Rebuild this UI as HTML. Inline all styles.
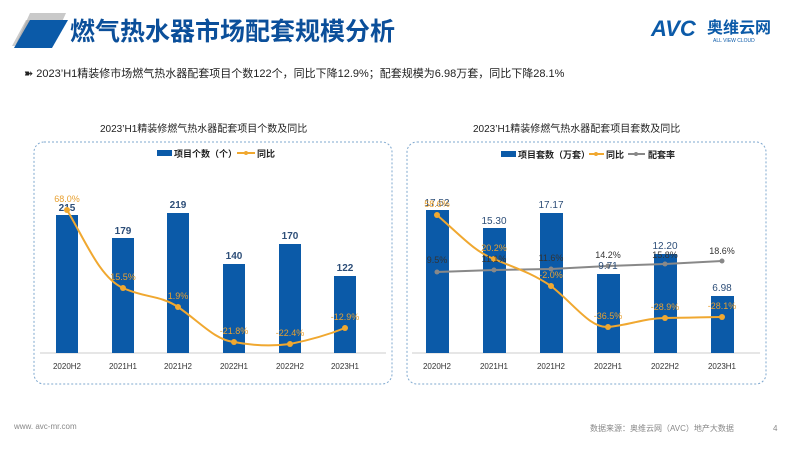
<!DOCTYPE html>
<html><head><meta charset="utf-8"><style>
body{margin:0;background:#fff;}
svg{display:block;font-family:"Liberation Sans","Noto Sans CJK SC",sans-serif;}
</style></head><body>
<svg width="800" height="450" viewBox="0 0 800 450" xmlns="http://www.w3.org/2000/svg">
<rect width="800" height="450" fill="#fff"/>
<!-- header icon -->
<polygon points="16,44 30,13 66,13 52,44" fill="#c9c9c9"/>
<polygon points="12,46 26,20 62,20 48,46" fill="#9a9a9a" opacity="0.5"/>
<polygon points="14,48 30,20 68,20 52,48" fill="#0b5aa8"/>
<text x="70" y="40" font-size="25" font-weight="bold" fill="#0b4f9a">燃气热水器市场配套规模分析</text>
<!-- AVC logo -->
<text x="651" y="36" font-size="22" font-weight="bold" font-style="italic" fill="#0b5aa8">AVC</text>
<text x="707" y="33" font-size="16" font-weight="bold" fill="#0b5aa8">奥维云网</text>
<text x="713" y="42" font-size="5" fill="#0b5aa8">ALL VIEW CLOUD</text>
<text x="24" y="77" font-size="11" fill="#222">➽ 2023’H1精装修市场燃气热水器配套项目个数122个，同比下降12.9%；配套规模为6.98万套，同比下降28.1%</text>
<text x="100" y="132" font-size="10" fill="#222">2023’H1精装修燃气热水器配套项目个数及同比</text>
<text x="473" y="132" font-size="10" fill="#222">2023’H1精装修燃气热水器配套项目套数及同比</text>
<!-- boxes -->
<rect x="34" y="142" width="358" height="242" rx="10" fill="none" stroke="#7fa8cf" stroke-dasharray="2,2"/>
<rect x="407" y="142" width="359" height="242" rx="10" fill="none" stroke="#7fa8cf" stroke-dasharray="2,2"/>
<!-- left chart -->
<rect x="157" y="150" width="15" height="6" fill="#0b5aa8"/>
<text x="174" y="157" font-size="9" font-weight="bold" fill="#222">项目个数（个）</text>
<line x1="237" y1="153" x2="255" y2="153" stroke="#f0a830" stroke-width="2"/><circle cx="246" cy="153" r="2" fill="#f0a830"/>
<text x="257" y="157" font-size="9" font-weight="bold" fill="#222">同比</text>
<line x1="40" y1="353" x2="386" y2="353" stroke="#ccc"/>
<g fill="#0b5aa8">
<rect x="56" y="215" width="22" height="138"/>
<rect x="112" y="238" width="22" height="115"/>
<rect x="167" y="213" width="22" height="140"/>
<rect x="223" y="264" width="22" height="89"/>
<rect x="279" y="244" width="22" height="109"/>
<rect x="334" y="276" width="22" height="77"/>
</g>
<g font-size="10" font-weight="bold" fill="#2d4e78" text-anchor="middle">
<text x="67" y="211">215</text><text x="123" y="234">179</text><text x="178" y="208">219</text>
<text x="234" y="259">140</text><text x="290" y="239">170</text><text x="345" y="271">122</text>
</g>
<path d="M67,210 C85,240 100,278 123,288 C145,298 160,295 178,307 C200,322 215,340 234,342 C255,346 275,346 290,344 C310,340 330,334 345,328" fill="none" stroke="#f0a830" stroke-width="2"/>
<g fill="#f0a830"><circle cx="67" cy="210" r="3"/><circle cx="123" cy="288" r="3"/><circle cx="178" cy="307" r="3"/><circle cx="234" cy="342" r="3"/><circle cx="290" cy="344" r="3"/><circle cx="345" cy="328" r="3"/></g>
<g font-size="9" fill="#e8a030" text-anchor="middle">
<text x="67" y="202">68.0%</text><text x="123" y="280">15.5%</text><text x="178" y="299">1.9%</text>
<text x="234" y="334">-21.8%</text><text x="290" y="336">-22.4%</text><text x="345" y="320">-12.9%</text>
</g>
<g font-size="8" fill="#333" text-anchor="middle">
<text x="67" y="369">2020H2</text><text x="123" y="369">2021H1</text><text x="178" y="369">2021H2</text>
<text x="234" y="369">2022H1</text><text x="290" y="369">2022H2</text><text x="345" y="369">2023H1</text>
</g>
<!-- right chart -->
<rect x="501" y="151" width="15" height="6" fill="#0b5aa8"/>
<text x="518" y="158" font-size="9" font-weight="bold" fill="#222">项目套数（万套）</text>
<line x1="589" y1="154" x2="604" y2="154" stroke="#f0a830" stroke-width="2"/><circle cx="596" cy="154" r="2" fill="#f0a830"/>
<text x="606" y="158" font-size="9" font-weight="bold" fill="#222">同比</text>
<line x1="628" y1="154" x2="645" y2="154" stroke="#888" stroke-width="2"/><circle cx="636" cy="154" r="2" fill="#888"/>
<text x="648" y="158" font-size="9" font-weight="bold" fill="#222">配套率</text>
<line x1="412" y1="353" x2="760" y2="353" stroke="#ccc"/>
<g fill="#0b5aa8">
<rect x="426" y="210" width="23" height="143"/>
<rect x="483" y="228" width="23" height="125"/>
<rect x="540" y="213" width="23" height="140"/>
<rect x="597" y="274" width="23" height="79"/>
<rect x="654" y="254" width="23" height="99"/>
<rect x="711" y="296" width="23" height="57"/>
</g>
<polyline points="437,272 494,270 551,269 608,266 665,264 722,261" fill="none" stroke="#888" stroke-width="2"/>
<g fill="#888"><circle cx="437" cy="272" r="2.5"/><circle cx="494" cy="270" r="2.5"/><circle cx="551" cy="269" r="2.5"/><circle cx="608" cy="266" r="2.5"/><circle cx="665" cy="264" r="2.5"/><circle cx="722" cy="261" r="2.5"/></g>
<path d="M437,215 C460,235 475,252 494,259 C515,268 530,272 551,286 C575,305 590,328 608,327 C630,325 645,318 665,318 C690,318 705,317 722,317" fill="none" stroke="#f0a830" stroke-width="2"/>
<g fill="#f0a830"><circle cx="437" cy="215" r="3"/><circle cx="494" cy="259" r="3"/><circle cx="551" cy="286" r="3"/><circle cx="608" cy="327" r="3"/><circle cx="665" cy="318" r="3"/><circle cx="722" cy="317" r="3"/></g>
<g font-size="10" fill="#2d4e78" text-anchor="middle">
<text x="437" y="206">17.52</text><text x="494" y="224">15.30</text><text x="551" y="208">17.17</text>
<text x="608" y="269">9.71</text><text x="665" y="249">12.20</text><text x="722" y="291">6.98</text>
</g>
<g font-size="9" fill="#333" text-anchor="middle">
<text x="437" y="263">9.5%</text><text x="494" y="262">11.1%</text><text x="551" y="261">11.6%</text>
<text x="608" y="258">14.2%</text><text x="665" y="258">15.8%</text><text x="722" y="254">18.6%</text>
</g>
<g font-size="9" fill="#e8a030" text-anchor="middle">
<text x="437" y="207">58.6%</text><text x="494" y="251">20.2%</text><text x="551" y="278">-2.0%</text>
<text x="608" y="319">-36.5%</text><text x="665" y="310">-28.9%</text><text x="722" y="309">-28.1%</text>
</g>
<g font-size="8" fill="#333" text-anchor="middle">
<text x="437" y="369">2020H2</text><text x="494" y="369">2021H1</text><text x="551" y="369">2021H2</text>
<text x="608" y="369">2022H1</text><text x="665" y="369">2022H2</text><text x="722" y="369">2023H1</text>
</g>
<!-- footer -->
<text x="14" y="429" font-size="8" fill="#888">www. avc-mr.com</text>
<text x="590" y="431" font-size="8" fill="#888">数据来源：奥维云网（AVC）地产大数据</text>
<text x="773" y="431" font-size="8" fill="#888">4</text>
</svg>
</body></html>
